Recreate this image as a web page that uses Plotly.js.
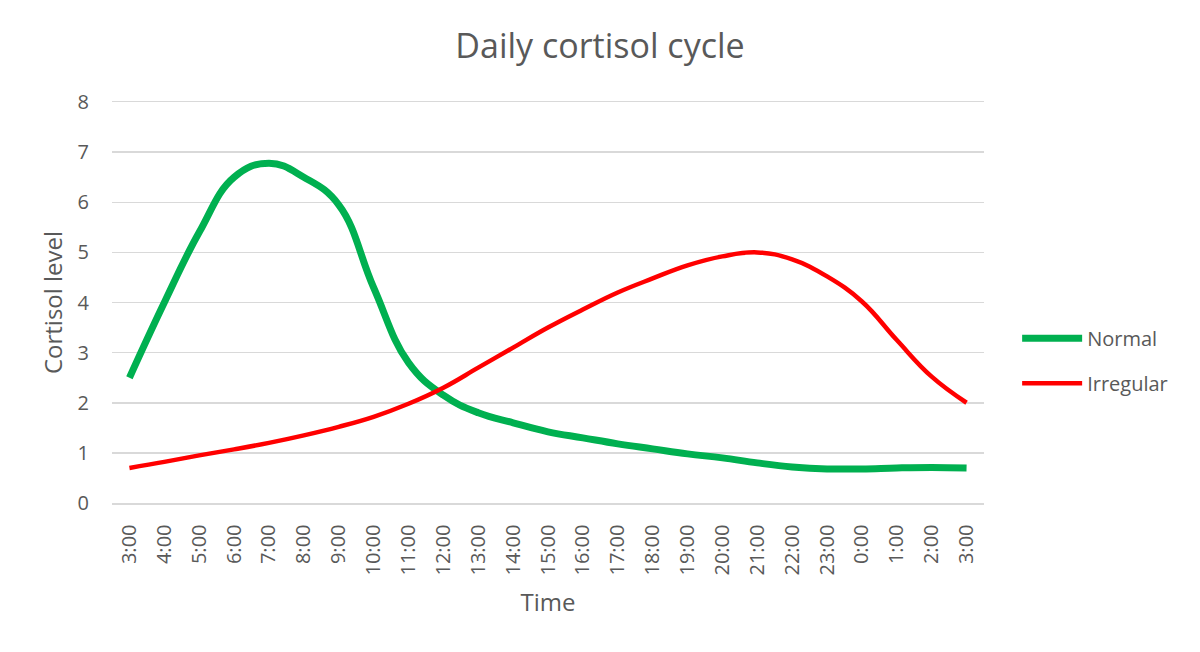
<!DOCTYPE html>
<html>
<head>
<meta charset="utf-8">
<script src="https://cdn.plot.ly/plotly-3.0.1.min.js"></script>
<style>html,body{margin:0;padding:0;background:#fff;}#chart{width:1200px;height:652px;}</style>
</head>
<body>
<div id="chart"></div>
<script>
const timeLabels = ["3:00","4:00","5:00","6:00","7:00","8:00","9:00","10:00","11:00","12:00","13:00","14:00","15:00","16:00","17:00","18:00","19:00","20:00","21:00","22:00","23:00","0:00","1:00","2:00","3:00"];
const normalLevels = [2.5,4.0,5.4,6.5,6.78,6.5,5.95,4.3,2.8,2.15,1.8,1.6,1.42,1.3,1.18,1.08,0.98,0.9,0.8,0.72,0.68,0.68,0.7,0.71,0.7];
const irregularLevels = [0.7,0.82,0.95,1.07,1.2,1.35,1.52,1.72,1.98,2.3,2.7,3.1,3.5,3.86,4.2,4.48,4.74,4.92,5.0,4.86,4.52,4.02,3.25,2.52,2.0];
const yTicks = [0,1,2,3,4,5,6,7,8];

const xIdx = timeLabels.map((_, i) => i);
const FONT = '"Open Sans", sans-serif';
const GREY = '#595959';

const traces = [
  {x: xIdx, y: normalLevels, name: 'Normal', type: 'scatter', mode: 'lines',
   line: {color: '#00b050', width: 7, shape: 'spline', smoothing: 1.2}, legendgroup: 'a'},
  {x: xIdx, y: irregularLevels, name: 'Irregular', type: 'scatter', mode: 'lines',
   line: {color: '#ff0000', width: 4.5, shape: 'spline', smoothing: 1.2}, legendgroup: 'b'}
];

const layout = {
  width: 1200, height: 652,
  margin: {l: 112, r: 216, t: 102, b: 149},
  paper_bgcolor: '#fff', plot_bgcolor: '#fff',
  font: {family: FONT, color: GREY, size: 20},
  title: {text: 'Daily cortisol cycle', font: {family: FONT, size: 34, color: GREY}, x: 0.5, xanchor: 'center', y: 0.93, yanchor: 'middle'},
  xaxis: {
    range: [-0.5, timeLabels.length - 0.5],
    tickvals: xIdx, ticktext: timeLabels, tickangle: -90,
    tickfont: {size: 20, color: GREY, family: FONT},
    showgrid: false, zeroline: false,
    showline: true, linecolor: '#d9d9d9', linewidth: 1.5, mirror: true, ticks: '',
    ticklabelstandoff: 12,
    title: {text: 'Time', font: {size: 24, color: GREY, family: FONT}, standoff: 19},
    automargin: false, fixedrange: true
  },
  yaxis: {
    range: [0, 8], tickvals: yTicks,
    tickfont: {size: 20, color: GREY, family: FONT},
    showgrid: true, gridcolor: '#d9d9d9', gridwidth: 1.5,
    zeroline: false, showline: false, ticks: '',
    ticklabelstandoff: 22,
    title: {text: 'Cortisol level', font: {size: 24, color: GREY, family: FONT}, standoff: 8},
    automargin: false, fixedrange: true
  },
  showlegend: true,
  legend: {x: 1.038, xanchor: 'left', y: 0.355, yanchor: 'middle', font: {size: 20, color: GREY, family: FONT},
           tracegroupgap: 16, itemwidth: 60, bgcolor: 'rgba(0,0,0,0)'}
};

Plotly.newPlot('chart', traces, layout, {displayModeBar: false, staticPlot: true});
</script>
</body>
</html>
